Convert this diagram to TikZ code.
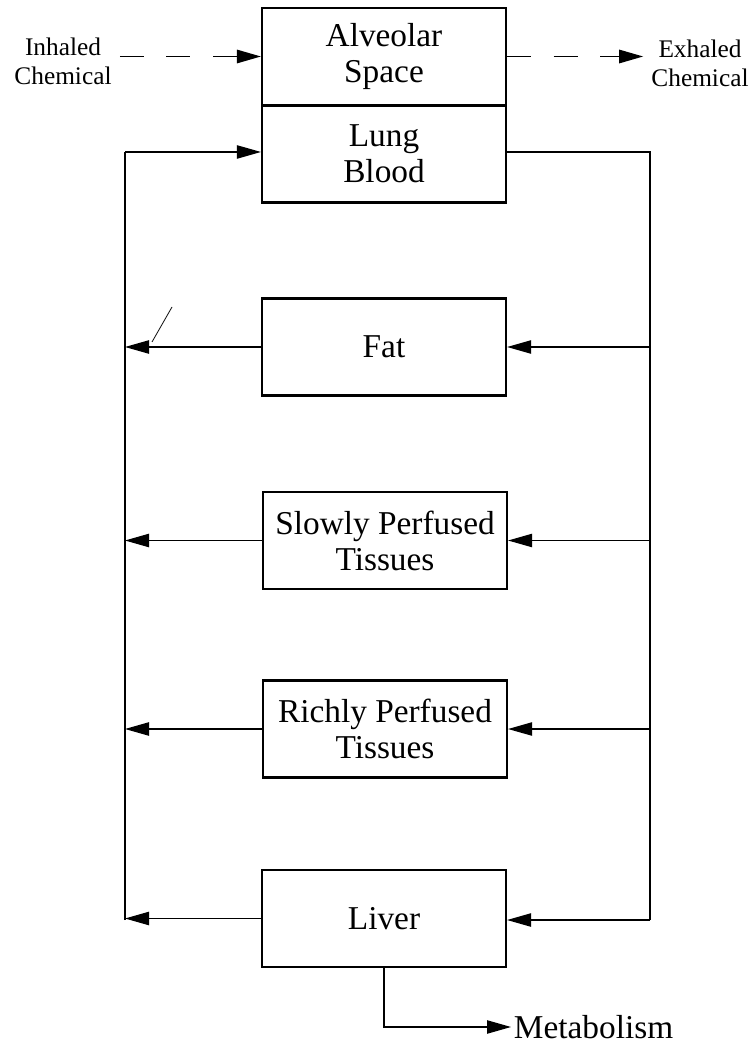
\documentclass[tikz,border=0pt]{standalone}
\usepackage{fontspec}
\setmainfont{Liberation Serif}
\usepackage{tikz}
\usetikzlibrary{arrows.meta,positioning,calc}

\tikzset{
  compartment/.style={draw, line width=1.6pt, minimum width=183pt, minimum height=72.75pt,
    inner sep=0.75pt, align=center, font=\fontsize{25}{27}\selectfont},
  sidelabel/.style={inner sep=6pt, align=center, font=\fontsize{19}{21.75}\selectfont},
  flow/.style={line width=0.9pt, -{Triangle[length=18pt,width=10pt]}},
  plain/.style={line width=0.9pt},
  breath/.style={line width=1.4pt, dash pattern=on 18pt off 17pt, -{Triangle[length=18pt,width=10pt]}}
}

\begin{document}
\begin{tikzpicture}[x=0.75pt,y=0.75pt,yscale=-1,xscale=1]
%set diagram left start at 0, and has height of 1044
\useasboundingbox (0,0) rectangle (754,1044);

%Shapes: compartments
\node[compartment] (alv) at (384,56.5) {Alveolar\\Space};
\node[compartment] (lung) at (384,154) {Lung\\Blood};
\node[compartment] (fat) at (384,347) {Fat};
\node[compartment] (slow) at (385,540.5) {Slowly Perfused\\Tissues};
\node[compartment] (rich) at (385,729) {Richly Perfused\\Tissues};
\node[compartment] (liv) at (384,918.5) {Liver};

% Text Node
\node[sidelabel] (inh) at (63,61) {Inhaled\\Chemical};
% Text Node
\node[sidelabel] (exh) at (700,63) {Exhaled\\Chemical};
% Text Node
\node[anchor=west, inner sep=2pt, font=\fontsize{25}{27}\selectfont] (met) at (511,1027) {Metabolism};

%Corners of the blood loop
\coordinate (ltop) at (125,152);
\coordinate (lbot) at (125,920);
\coordinate (rtop) at (650,152);
\coordinate (rbot) at (650,920);

%Dashed Lines
\draw[breath] (inh.east |- alv.west) -- (alv.west);
\draw[breath] (alv.east) -- (exh.west |- alv.east);

%Straight Lines: venous side
\draw[plain] (lbot) -- (ltop);
\draw[flow] (ltop) -- (ltop -| lung.west);
\draw[flow] (fat.west) -- (fat.west -| ltop);
\draw[flow] (slow.west) -- (slow.west -| ltop);
\draw[flow] (rich.west) -- (rich.west -| ltop);
\draw[flow] (liv.west) -- (liv.west -| ltop);

%Straight Lines: arterial side
\draw[plain] (rtop -| lung.east) -- (rtop) -- (rbot);
\draw[flow] (fat.east -| rtop) -- (fat.east);
\draw[flow] (slow.east -| rtop) -- (slow.east);
\draw[flow] (rich.east -| rtop) -- (rich.east);
\draw[flow] (rbot) -- (rbot -| liv.east);

%Straight Lines: metabolism
\draw[flow] (liv.south) -- (liv.south |- met.west) -- (met.west);

%Straight Lines: small tick
\draw[line width=0.6pt] (172,307) -- (152,342);

\end{tikzpicture}
\end{document}
